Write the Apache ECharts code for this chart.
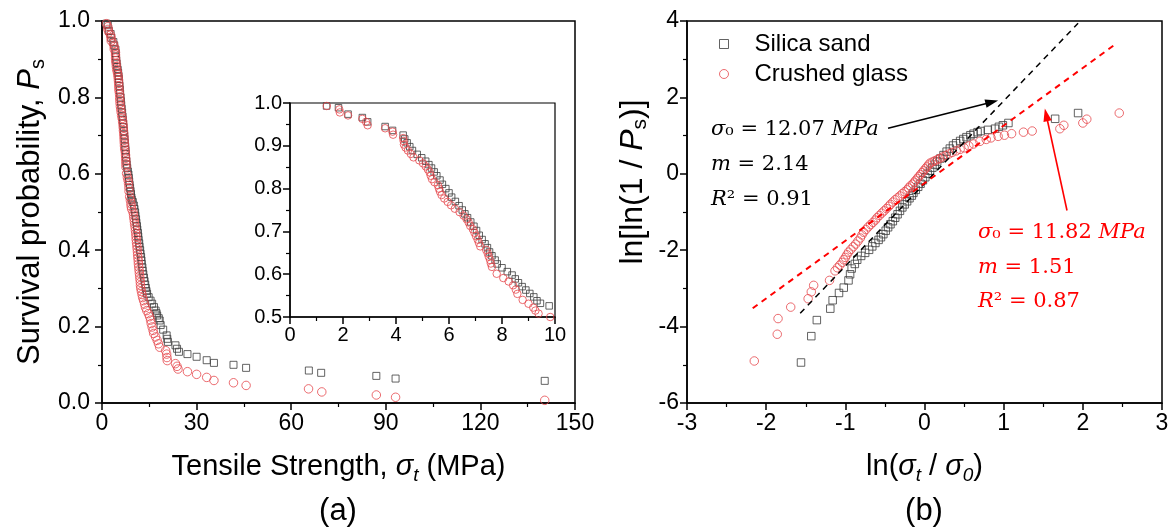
<!DOCTYPE html>
<html><head><meta charset="utf-8">
<script src="https://cdn.jsdelivr.net/npm/echarts@6/dist/echarts.min.js"></script>
<style>html,body{margin:0;padding:0;background:#fff}#c{width:1174px;height:531px}</style>
</head><body><div id="c"></div>
<script>
// ---------- tick labels ----------
const xTicksA = [0, 30, 60, 90, 120, 150];
const yTicksA = [0.0, 0.2, 0.4, 0.6, 0.8, 1.0];
const xTicksInset = [0, 2, 4, 6, 8, 10];
const yTicksInset = [0.5, 0.6, 0.7, 0.8, 0.9, 1.0];
const xTicksB = [-3, -2, -1, 0, 1, 2, 3];
const yTicksB = [-6, -4, -2, 0, 2, 4];

// ---------- series names ----------
const seriesNames = ['Silica sand', 'Crushed glass'];

// ---------- panel (a): [tensile strength (MPa), survival probability] ----------
const silicaA = [
[1.38,0.993],[1.83,0.989],[2.19,0.974],[2.73,0.966],[2.93,0.956],[3.59,0.945],[3.87,0.936],[4.27,0.925],[4.33,0.916],[4.42,0.907],
[4.52,0.898],[4.62,0.889],[4.80,0.880],[4.97,0.872],[5.12,0.864],[5.24,0.856],[5.34,0.848],[5.44,0.839],[5.54,0.830],[5.66,0.820],
[5.75,0.810],[5.88,0.800],[6.00,0.790],[6.10,0.780],[6.24,0.770],[6.38,0.760],[6.50,0.750],[6.60,0.741],[6.70,0.732],[6.82,0.722],
[6.94,0.712],[7.04,0.702],[7.14,0.691],[7.25,0.681],[7.36,0.671],[7.45,0.662],[7.53,0.652],[7.62,0.643],[7.74,0.633],[7.82,0.624],
[8.00,0.615],[8.20,0.606],[8.38,0.598],[8.50,0.589],[8.62,0.580],[8.76,0.571],[8.90,0.563],[9.05,0.555],[9.20,0.547],[9.32,0.538],
[9.45,0.532],[9.78,0.526],[10.1,0.517],[10.3,0.508],[10.5,0.499],[10.6,0.490],[10.8,0.481],[10.9,0.472],[11.1,0.463],[11.2,0.454],
[11.4,0.445],[11.5,0.436],[11.6,0.427],[11.8,0.418],[11.9,0.409],[12.1,0.400],[12.2,0.391],[12.4,0.382],[12.5,0.373],[12.6,0.364],
[12.8,0.355],[12.9,0.346],[13.1,0.337],[13.3,0.328],[13.5,0.319],[13.7,0.310],[13.9,0.301],[14.1,0.293],[14.3,0.286],[14.8,0.277],
[15.4,0.268],[15.9,0.260],[16.5,0.251],[17.0,0.242],[17.3,0.235],[17.5,0.229],[18.0,0.222],[18.3,0.216],[18.6,0.204],[19.4,0.192],
[20.5,0.177],[20.7,0.168],[20.9,0.160],[23.3,0.151],[23.8,0.142],[24.4,0.134],[27.1,0.128],[30.0,0.121],[33.2,0.112],[35.5,0.105],
[41.7,0.100],[45.7,0.092],[65.6,0.085],[69.5,0.079],[87.0,0.071],[93.1,0.064],[140.4,0.058]
];
const glassA = [
[1.39,0.993],[1.86,0.985],[1.88,0.978],[2.19,0.971],[2.73,0.963],[2.87,0.956],[2.93,0.948],[3.59,0.941],[3.87,0.933],[3.89,0.926],
[4.27,0.918],[4.29,0.911],[4.30,0.903],[4.36,0.896],[4.45,0.889],[4.56,0.881],[4.66,0.873],[4.88,0.866],[5.02,0.859],[5.12,0.852],
[5.20,0.845],[5.27,0.838],[5.31,0.830],[5.36,0.822],[5.45,0.815],[5.58,0.808],[5.62,0.800],[5.66,0.793],[5.72,0.785],[5.82,0.777],
[5.95,0.769],[6.08,0.761],[6.22,0.753],[6.40,0.745],[6.55,0.737],[6.66,0.729],[6.74,0.721],[6.80,0.713],[6.90,0.705],[6.96,0.697],
[7.02,0.689],[7.08,0.681],[7.13,0.673],[7.18,0.665],[7.40,0.657],[7.46,0.649],[7.50,0.641],[7.55,0.633],[7.58,0.625],[7.62,0.617],
[7.80,0.601],[8.05,0.591],[8.25,0.583],[8.42,0.574],[8.52,0.564],[8.58,0.554],[8.78,0.540],[9.00,0.531],[9.18,0.522],[9.26,0.515],
[9.38,0.508],[9.82,0.500],[10.0,0.492],[10.1,0.484],[10.25,0.476],[10.35,0.468],[10.5,0.460],[10.6,0.452],[10.7,0.444],[10.8,0.436],
[10.85,0.428],[10.95,0.420],[11.05,0.412],[11.15,0.404],[11.25,0.396],[11.3,0.388],[11.4,0.380],[11.5,0.372],[11.55,0.364],[11.65,0.356],
[11.75,0.348],[11.85,0.340],[11.95,0.332],[12.05,0.324],[12.15,0.316],[12.2,0.308],[12.3,0.300],[12.5,0.292],[12.7,0.284],[12.9,0.276],
[13.2,0.268],[13.5,0.259],[13.8,0.250],[14.2,0.242],[14.7,0.234],[15.1,0.226],[15.4,0.217],[15.6,0.208],[15.9,0.199],[16.2,0.190],
[16.4,0.182],[17.0,0.173],[17.5,0.164],[17.9,0.155],[18.3,0.146],[20.2,0.137],[20.5,0.128],[20.6,0.119],[20.7,0.111],[23.3,0.103],
[23.8,0.096],[24.1,0.089],[27.1,0.082],[30.0,0.075],[33.2,0.067],[35.5,0.059],[41.7,0.053],[45.7,0.046],[65.5,0.037],[69.7,0.029],
[87.0,0.021],[93.1,0.015],[140.4,0.007]
];

// ---------- panel (b): [ln(sigma_t/sigma_0), ln(ln(1/Ps))] ----------
const silicaB = [
[-1.56,-4.94],[-1.43,-4.25],[-1.36,-3.83],[-1.19,-3.53],[-1.16,-3.31],[-1.08,-3.12],[-1.02,-2.98],[-0.96,-2.79],[-0.94,-2.63],[-0.92,-2.48],
[-0.88,-2.36],[-0.85,-2.25],[-0.80,-2.15],[-0.75,-2.07],[-0.70,-1.99],[-0.66,-1.90],[-0.62,-1.81],[-0.58,-1.73],[-0.55,-1.66],[-0.52,-1.58],
[-0.49,-1.49],[-0.46,-1.40],[-0.43,-1.32],[-0.40,-1.24],[-0.37,-1.15],[-0.34,-1.06],[-0.31,-0.97],[-0.28,-0.88],[-0.25,-0.80],[-0.22,-0.72],
[-0.19,-0.64],[-0.16,-0.57],[-0.14,-0.50],[-0.11,-0.42],[-0.08,-0.34],[-0.05,-0.26],[-0.02,-0.17],[0.01,-0.09],[0.04,0.00],[0.07,0.08],
[0.10,0.16],[0.13,0.24],[0.16,0.32],[0.20,0.40],[0.24,0.49],[0.28,0.58],[0.32,0.66],[0.36,0.74],[0.40,0.80],[0.45,0.86],
[0.49,0.91],[0.53,0.96],[0.58,1.01],[0.62,1.05],[0.67,1.09],[0.71,1.12],[0.80,1.15],[0.89,1.18],[0.94,1.23],[0.99,1.27],
[1.06,1.33],[1.65,1.44],[1.94,1.59]
];
const glassB = [
[-2.15,-4.90],[-1.86,-4.20],[-1.85,-3.79],[-1.69,-3.49],[-1.47,-3.27],[-1.43,-3.09],[-1.40,-2.92],[-1.20,-2.79],[-1.13,-2.54],[-1.10,-2.46],
[-1.07,-2.39],[-1.04,-2.32],[-1.02,-2.25],[-1.00,-2.19],[-0.98,-2.12],[-0.96,-2.05],[-0.93,-1.98],[-0.90,-1.91],[-0.87,-1.84],[-0.84,-1.76],
[-0.81,-1.68],[-0.79,-1.60],[-0.77,-1.53],[-0.74,-1.46],[-0.71,-1.39],[-0.68,-1.33],[-0.65,-1.27],[-0.62,-1.21],[-0.60,-1.15],[-0.57,-1.09],
[-0.54,-1.03],[-0.51,-0.97],[-0.48,-0.91],[-0.45,-0.85],[-0.43,-0.80],[-0.40,-0.74],[-0.37,-0.68],[-0.34,-0.63],[-0.31,-0.58],[-0.28,-0.52],
[-0.25,-0.47],[-0.22,-0.42],[-0.20,-0.37],[-0.18,-0.32],[-0.15,-0.27],[-0.13,-0.22],[-0.11,-0.17],[-0.09,-0.12],[-0.07,-0.07],[-0.05,-0.02],
[-0.03,0.03],[-0.01,0.08],[0.01,0.13],[0.03,0.18],[0.05,0.23],[0.07,0.28],[0.10,0.31],[0.13,0.34],[0.16,0.37],[0.19,0.40],
[0.23,0.44],[0.27,0.48],[0.31,0.52],[0.35,0.56],[0.40,0.60],[0.45,0.64],[0.50,0.68],[0.56,0.73],[0.62,0.78],[0.70,0.85],
[0.78,0.90],[0.84,0.94],[0.93,0.98],[1.01,1.01],[1.10,1.05],[1.25,1.09],[1.36,1.12],[1.71,1.18],[1.76,1.27],[2.00,1.33],
[2.05,1.43],[2.46,1.59]
];

// ---------- Weibull fit lines (end points) and annotation arrows ----------
const fitSilica = [[-1.57,-3.65],[1.94,3.94]];
const fitGlass = [[-2.17,-3.52],[2.43,3.42]];
const arrowSilica = [[-0.46,1.19],[0.93,1.92]];
const arrowGlass = [[1.80,-0.96],[1.52,1.71]];
const annoSilica = ['σ₀ = 12.07 MPa', 'm = 2.14', 'R² = 0.91'];
const annoGlass = ['σ₀ = 11.82 MPa', 'm = 1.51', 'R² = 0.87'];

// ---------- styling ----------
const FONT = '"Liberation Sans", Arial, sans-serif';
const SERIF = '"DejaVu Serif", serif';
const SQ = '#3c3c3c';
const CI = '#e6474c';
const RED = '#ff0000';
const TICK_FS = 23;
const NAME_FS = 29;

function axisCommon(ticks, fs, margin, fmt) {
  return {
    type: 'value',
    min: ticks[0], max: ticks[ticks.length - 1], interval: +(ticks[1] - ticks[0]).toFixed(6),
    axisLine: {show: true, onZero: false, lineStyle: {color: '#000', width: 1.5}},
    axisTick: {show: true, inside: false, length: 7, lineStyle: {color: '#000', width: 1.5}},
    minorTick: {show: true, splitNumber: 2, length: 4, lineStyle: {color: '#000', width: 1.2}},
    splitLine: {show: false}, minorSplitLine: {show: false},
    axisLabel: {color: '#000', fontFamily: FONT, fontSize: fs, margin: margin, showMinLabel: true, showMaxLabel: true,
      formatter: fmt || (v => String(v))}
  };
}
function nameStyle(fs, pad) {
  return {
    fontFamily: FONT, fontSize: fs, color: '#000', lineHeight: 36, padding: pad || 0,
    rich: {
      i: {fontFamily: FONT, fontSize: fs, fontStyle: 'italic', color: '#000', lineHeight: 36},
      s: {fontFamily: FONT, fontSize: Math.round(fs * 0.66), color: '#000', lineHeight: 19, verticalAlign: 'bottom'},
      si: {fontFamily: FONT, fontSize: Math.round(fs * 0.66), fontStyle: 'italic', color: '#000', lineHeight: 19, verticalAlign: 'bottom'}
    }
  };
}
const f1 = v => v.toFixed(1);

function scatter(name, data, xi, kind, size) {
  return {
    type: 'scatter', name, data, xAxisIndex: xi, yAxisIndex: xi,
    symbol: kind === 'sq' ? 'rect' : 'circle', symbolSize: size,
    itemStyle: {color: 'transparent', borderColor: kind === 'sq' ? SQ : CI, borderWidth: 1},
    emphasis: {disabled: true}, silent: true, clip: true
  };
}

function annoText(lines, x, y0, dy, color) {
  return lines.map((t, k) => {
    const rt = t.replace(/^σ/, '{i|σ}').replace(/^m /, '{i|m} ').replace(/^R/, '{i|R}').replace(/MPa$/, '{i|MPa}');
    return {
      type: 'text', x: x, y: y0 + k * dy, silent: true,
      style: {
        text: rt, fill: color, fontFamily: SERIF, fontSize: 21, verticalAlign: 'middle', align: 'left',
        rich: {i: {fontFamily: SERIF, fontSize: 21, fontStyle: 'italic', fill: color, color: color}}
      }
    };
  });
}

const chart = echarts.init(document.getElementById('c'), null, {renderer: 'canvas'});
const option = {
  animation: false,
  backgroundColor: '#fff',
  grid: [
    {left: 102, top: 21, width: 473, height: 382, show: true, borderColor: '#000', borderWidth: 1.5, backgroundColor: 'transparent', containLabel: false, outerBoundsMode: 'none'},
    {left: 290, top: 103, width: 265, height: 214, show: true, borderColor: '#000', borderWidth: 1.2, backgroundColor: '#fff', containLabel: false, outerBoundsMode: 'none'},
    {left: 687, top: 21, width: 475, height: 382, show: true, borderColor: '#000', borderWidth: 1.5, backgroundColor: 'transparent', containLabel: false, outerBoundsMode: 'none'}
  ],
  xAxis: [
    Object.assign(axisCommon(xTicksA, TICK_FS, 9), {gridIndex: 0, name: 'Tensile Strength, {i|σ}{si|t} (MPa)', nameLocation: 'middle', nameGap: 46, nameTextStyle: nameStyle(NAME_FS)}),
    Object.assign(axisCommon(xTicksInset, 20, 8), {gridIndex: 1}),
    Object.assign(axisCommon(xTicksB, TICK_FS, 9), {gridIndex: 2, name: 'ln({i|σ}{si|t} / {i|σ}{si|0})', nameLocation: 'middle', nameGap: 46, nameTextStyle: nameStyle(NAME_FS)})
  ],
  yAxis: [
    Object.assign(axisCommon(yTicksA, TICK_FS, 12, f1), {gridIndex: 0, name: 'Survival probability, {i|P}{s|s}', nameLocation: 'middle', nameRotate: 90, nameGap: 54, nameTextStyle: nameStyle(31)}),
    Object.assign(axisCommon(yTicksInset, 20, 8, f1), {gridIndex: 1}),
    Object.assign(axisCommon(yTicksB, TICK_FS, 8), {gridIndex: 2, name: 'ln[ln(1 / {i|P}{s|s})]', nameLocation: 'middle', nameRotate: 90, nameGap: 36, nameTextStyle: nameStyle(32, [0, 0, 0, 60])})
  ],
  legend: {
    orient: 'vertical', left: 714, top: 27, itemWidth: 9, itemHeight: 9, itemGap: 6, selectedMode: false,
    textStyle: {fontFamily: FONT, fontSize: 24, color: '#000', padding: [0, 0, 0, 21]},
    data: [
      {name: seriesNames[0], icon: 'rect', itemStyle: {color: 'transparent', borderColor: SQ, borderWidth: 1}},
      {name: seriesNames[1], icon: 'circle', itemStyle: {color: 'transparent', borderColor: CI, borderWidth: 1}}
    ]
  },
  series: [
    scatter(seriesNames[0], silicaA, 0, 'sq', 7),
    scatter(seriesNames[1], glassA, 0, 'ci', 8.5),
    scatter(seriesNames[0], silicaA, 1, 'sq', 6.5),
    scatter(seriesNames[1], glassA, 1, 'ci', 7.5),
    scatter(seriesNames[0], silicaB, 2, 'sq', 7.5),
    scatter(seriesNames[1], glassB, 2, 'ci', 8.5),
    {type: 'line', data: fitSilica, xAxisIndex: 2, yAxisIndex: 2, symbol: 'none', silent: true,
      lineStyle: {color: '#000', width: 1.5, type: [6, 5]}},
    {type: 'line', data: fitGlass, xAxisIndex: 2, yAxisIndex: 2, symbol: 'none', silent: true,
      lineStyle: {color: RED, width: 2, type: [6, 5]}}
  ],
  graphic: [].concat(
    annoText(annoSilica, 711, 130, 35, '#000'),
    annoText(annoGlass, 978, 233, 34.5, RED),
    [
      {type: 'text', x: 338, y: 511, silent: true, style: {text: '(a)', fontFamily: FONT, fontSize: 31, fill: '#000', align: 'center', verticalAlign: 'middle'}},
      {type: 'text', x: 924, y: 511, silent: true, style: {text: '(b)', fontFamily: FONT, fontSize: 31, fill: '#000', align: 'center', verticalAlign: 'middle'}}
    ]
  )
};
chart.setOption(option);

// arrows: end points given in data coordinates, converted through the panel (b) axes
function arrowGraphic(coords, color) {
  const p0 = chart.convertToPixel({gridIndex: 2}, coords[0]);
  const p1 = chart.convertToPixel({gridIndex: 2}, coords[1]);
  const dx = p1[0] - p0[0], dy = p1[1] - p0[1];
  const L = Math.hypot(dx, dy), ux = dx / L, uy = dy / L;
  const head = 13, half = 4.2;
  const bx = p1[0] - ux * head, by = p1[1] - uy * head;
  return [
    {type: 'line', silent: true, z: 50, shape: {x1: p0[0], y1: p0[1], x2: bx + ux * 2, y2: by + uy * 2}, style: {stroke: color, lineWidth: 1.6}},
    {type: 'polygon', silent: true, z: 50, shape: {points: [[p1[0], p1[1]], [bx - uy * half, by + ux * half], [bx + uy * half, by - ux * half]]}, style: {fill: color}}
  ];
}
chart.setOption({graphic: option.graphic.concat(arrowGraphic(arrowSilica, '#000'), arrowGraphic(arrowGlass, RED))});
</script></body></html>
